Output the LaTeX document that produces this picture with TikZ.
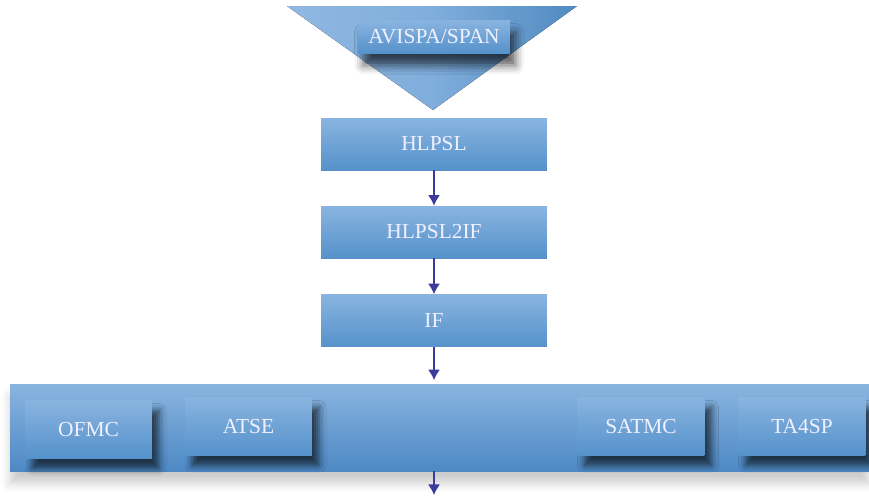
\documentclass[tikz,border=0pt]{standalone}
\usepackage{fontspec}
\setmainfont{Liberation Serif}
\usetikzlibrary{positioning,shadows.blur,arrows.meta}
\definecolor{boxtop}{HTML}{8AB4E0}
\definecolor{boxbot}{HTML}{5592CB}
\definecolor{bandbot}{HTML}{4D89C5}
\definecolor{arrowblue}{HTML}{3B3B9C}

\begin{document}
\begin{tikzpicture}[x=0.02cm, y=-0.02cm,
  every node/.style={rectangle, inner sep=0pt, text=white!94!blue, font=\fontsize{12.2}{14}\selectfont},
  stage/.style={top color=boxtop, bottom color=boxbot, minimum width=4.52cm, minimum height=1.04cm},
  tool/.style={top color=boxtop, bottom color=boxbot, minimum width=2.54cm, minimum height=1.16cm,
    blur shadow={shadow xshift=4pt, shadow yshift=-6pt, shadow blur radius=4pt, shadow opacity=65}},
  flow/.style={-{Latex[length=6pt, width=7pt]}, draw=arrowblue, line width=1.1pt}]
\useasboundingbox (0,0) rectangle (869,498);

% top triangle
\fill[left color=boxtop!95!white, right color=boxbot!95!black, middle color=boxtop!80!boxbot]
  (287,6) -- (577,6) -- (433,110) -- cycle;
\node[top color=boxtop, bottom color=boxbot, minimum width=3.04cm, minimum height=0.66cm,
  blur shadow={shadow xshift=3pt, shadow yshift=-7pt, shadow blur radius=5pt, shadow opacity=65}]
  (avispa) at (434,36.5) {AVISPA/SPAN};

% chain
\node[stage] (hlpsl) at (434,144) {HLPSL};
\node[stage] (hlpsl2if) at (434,232) {HLPSL2IF};
\node[stage] (if) at (434,320.5) {IF};

% back-ends
\node[top color=boxtop, bottom color=bandbot, minimum width=17.18cm, minimum height=1.74cm,
  blur shadow={shadow xshift=0pt, shadow yshift=-7pt, shadow blur radius=5pt, shadow opacity=20}]
  (tools) at (439.5,427.5) {};
\node[tool] (ofmc) at (88.5,429) {OFMC};
\node[tool] (atse) at (248.5,426) {ATSE};
\node[tool] (satmc) at (641,426) {SATMC};
\node[tool] (ta4sp) at (802,426) {TA4SP};
\coordinate (out) at (434,495);

\draw[flow] (hlpsl) -- (hlpsl2if);
\draw[flow] (hlpsl2if) -- (if);
\draw[flow, shorten >=2pt] (if) -- (if |- tools.north);
\draw[flow] (tools.south -| if) -- (out);
\end{tikzpicture}
\end{document}
